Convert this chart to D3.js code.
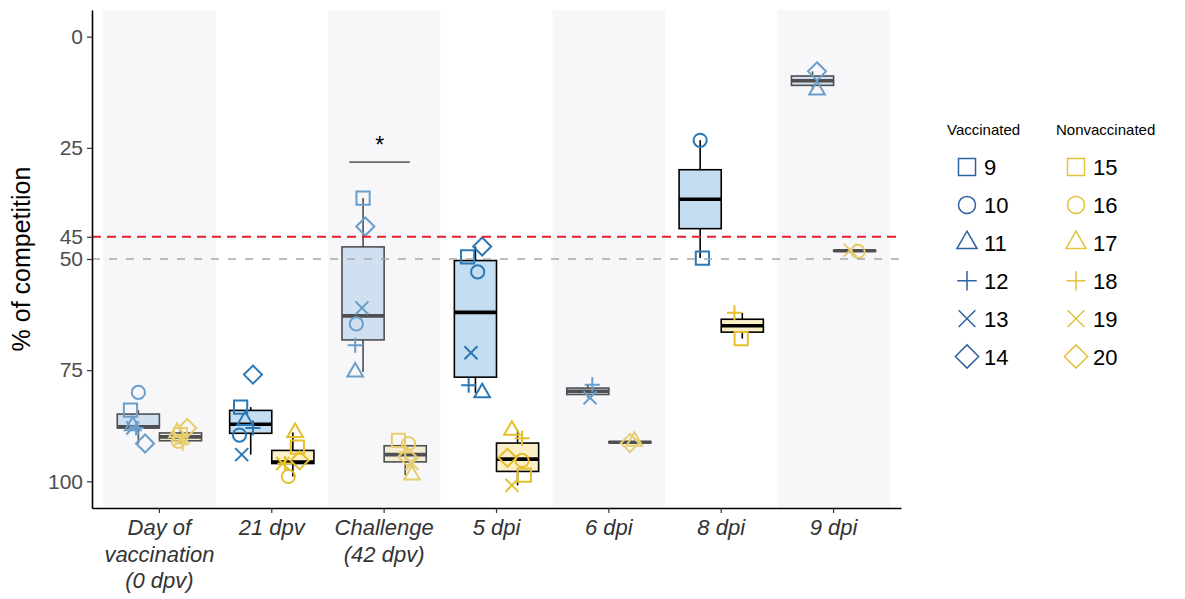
<!DOCTYPE html>
<html>
<head>
<meta charset="utf-8">
<title>% of competition</title>
<style>
  body { margin: 0; background: #fff; }
  svg { display: block; font-family: "Liberation Sans", Arial, sans-serif; }
</style>
</head>
<body>
<svg width="1185" height="599"></svg>
<script src="https://d3js.org/d3.v7.min.js"></script>
<script>
// ---- data ----
const timepoints = ["d0", "d21", "chal", "5dpi", "6dpi", "8dpi", "9dpi"];
const tickLabels = [["Day of", "vaccination", "(0 dpv)"], ["21 dpv"], ["Challenge", "(42 dpv)"],
                    ["5 dpi"], ["6 dpi"], ["8 dpi"], ["9 dpi"]];
const yTicks = [0, 25, 45, 50, 75, 100];
const vaccinatedIds = [9, 10, 11, 12, 13, 14];
const nonvaccinatedIds = [15, 16, 17, 18, 19, 20];
const shapes = ["square", "circle", "triangle", "plus", "times", "diamond"];

// one row per timepoint, one column per animal (null = no sample)
const vaccinated = [
  [84, 80, 87.5, 88, 88, 91.5],
  [83.3, 89.6, 86.3, 88, 94, 76],
  [36.3, 64.6, 75.4, 69.4, 61, 42.7],
  [49.5, 52.9, 80.1, 78.4, 71.1, 47.2],
  [null, null, null, 78.3, 81.2, null],
  [49.8, 23.3, null, null, null, null],
  [null, null, 12.0, null, null, 7.8]
];
const nonvaccinated = [
  [89.5, 91, 89, 91.5, 90.5, 88],
  [92.3, 98.9, 89, 96, 96, 95.3],
  [90.8, 91.5, 98.6, 93.5, 96, 94.5],
  [98.6, 95.3, 88.5, 90.3, 100.9, 94.7],
  [null, null, 91.0, null, null, 91.4],
  [67.9, null, null, 62.1, null, null],
  [null, 48.3, null, null, 48.0, null]
];
// horizontal jitter of each point, as a share of one category
const jitterVac = [
  [-0.07, 0, -0.05, -0.02, -0.05, 0.06],
  [-0.09, -0.1, -0.05, 0.02, -0.08, 0.02],
  [0, -0.06, -0.07, -0.07, -0.01, 0.02],
  [-0.07, 0.02, 0.06, -0.06, -0.04, 0.06],
  [0, 0, 0, 0.04, 0.02, 0],
  [0.02, 0, 0, 0, 0, 0],
  [0, 0, 0.04, 0, 0, 0.04]
];
const jitterNon = [
  [0, -0.02, -0.03, 0.02, 0, 0.06],
  [0.04, -0.04, 0.02, -0.07, -0.09, 0.06],
  [-0.06, 0.03, 0.06, 0, 0.06, 0.02],
  [0.06, 0.04, -0.05, 0.04, -0.05, -0.09],
  [0, 0, 0.04, 0, 0, 0],
  [-0.01, 0, 0, -0.07, 0, 0],
  [0, 0.03, 0, 0, -0.04, 0]
];
const cutoffRed = 45;
const cutoffGray = 50;
const signifAt = "chal";

// ---- setup ----
const blue = "#2a78b6", yellow = "#e6bf2a";
const blueFill = "#c4ddf0", yellowFill = "#fbf0c8";
const margin = {left: 92, right: 901, top: 10, bottom: 508};

const svg = d3.select("svg");

const x = d3.scaleBand()
  .domain(timepoints)
  .range([margin.left, margin.right])
  .paddingInner(0)
  .paddingOuter(0.1);
const step = x.bandwidth();
const boxW = step * 0.375;

const y = d3.scaleLinear().domain([-6, 106]).range([margin.top, margin.bottom]);

function shapePath(type, s) {
  let h;
  switch (type) {
    case "square": h = 6.3 * s; return `M${-h},${-h}H${h}V${h}H${-h}Z`;
    case "circle": h = 6.3 * s; return `M${h},0A${h},${h} 0 1,1 ${-h},0A${h},${h} 0 1,1 ${h},0Z`;
    case "triangle": h = 8.6 * s;
      return `M0,${-h}L${h * 0.866},${h * 0.5}L${-h * 0.866},${h * 0.5}Z`;
    case "plus": h = 7.2 * s; return `M${-h},0H${h}M0,${-h}V${h}`;
    case "times": h = 6.2 * s; return `M${-h},${-h}L${h},${h}M${-h},${h}L${h},${-h}`;
    case "diamond": h = 8.6 * s; return `M0,${-h}L${h},0L0,${h}L${-h},0Z`;
  }
}

function boxStats(vals) {
  const s = vals.filter(v => v != null).sort(d3.ascending);
  const q1 = d3.quantile(s, 0.25), med = d3.quantile(s, 0.5), q3 = d3.quantile(s, 0.75);
  const iqr = q3 - q1;
  const lo = d3.min(s.filter(v => v >= q1 - 1.5 * iqr));
  const hi = d3.max(s.filter(v => v <= q3 + 1.5 * iqr));
  return {q1, med, q3, lo, hi};
}

// groups: vaccinated dodged left, nonvaccinated right
const groups = [];
timepoints.forEach((t, i) => {
  groups.push({t, i, vals: vaccinated[i], jit: jitterVac[i], dodge: -1, color: blue, fill: blueFill});
  groups.push({t, i, vals: nonvaccinated[i], jit: jitterNon[i], dodge: 1, color: yellow, fill: yellowFill});
});
groups.forEach(g => {
  g.cx = x(g.t) + step / 2 + g.dodge * boxW / 2;
  g.stats = boxStats(g.vals);
});

// ---- boxes ----
const boxG = svg.append("g");
groups.forEach(g => {
  const st = g.stats;
  const gg = boxG.append("g");
  gg.append("line")
    .attr("x1", g.cx).attr("x2", g.cx)
    .attr("y1", y(st.lo)).attr("y2", y(st.hi))
    .attr("stroke", "#000").attr("stroke-width", 1.6);
  gg.append("rect")
    .attr("x", g.cx - boxW / 2).attr("width", boxW)
    .attr("y", y(st.q1)).attr("height", Math.max(0, y(st.q3) - y(st.q1)))
    .attr("fill", g.fill).attr("stroke", "#000").attr("stroke-width", 1.6);
  gg.append("line")
    .attr("x1", g.cx - boxW / 2).attr("x2", g.cx + boxW / 2)
    .attr("y1", y(st.med)).attr("y2", y(st.med))
    .attr("stroke", "#000").attr("stroke-width", 3.6);
});

// ---- points ----
const ptG = svg.append("g");
groups.forEach(g => {
  g.vals.forEach((v, k) => {
    if (v == null) return;
    ptG.append("path")
      .attr("d", shapePath(shapes[k], 1.05))
      .attr("transform", `translate(${g.cx + g.jit[k] * step},${y(v)})`)
      .attr("fill", "none")
      .attr("stroke", g.color)
      .attr("stroke-width", 2);
  });
});

// ---- shaded bands (drawn on top, semi transparent) ----
svg.append("g").selectAll("rect")
  .data(timepoints.filter((d, i) => i % 2 === 0))
  .join("rect")
  .attr("x", d => x(d))
  .attr("width", step)
  .attr("y", margin.top)
  .attr("height", margin.bottom - margin.top)
  .attr("fill", "#e9e9f0")
  .attr("fill-opacity", 0.34);

// ---- cut-off lines ----
svg.append("line")
  .attr("x1", margin.left).attr("x2", margin.right)
  .attr("y1", y(cutoffGray)).attr("y2", y(cutoffGray))
  .attr("stroke", "#a8a8a8").attr("stroke-width", 1.5).attr("stroke-dasharray", "8,9");
svg.append("line")
  .attr("x1", margin.left).attr("x2", margin.right)
  .attr("y1", y(cutoffRed)).attr("y2", y(cutoffRed))
  .attr("stroke", "#e3202a").attr("stroke-width", 2.2).attr("stroke-dasharray", "9,6");

// ---- significance mark ----
const sx = x(signifAt) + step / 2;
svg.append("line")
  .attr("x1", sx - step * 0.31).attr("x2", sx + step * 0.23)
  .attr("y1", y(28.2)).attr("y2", y(28.2))
  .attr("stroke", "#000").attr("stroke-width", 1);
svg.append("text")
  .attr("x", sx - step * 0.04).attr("y", y(28.2) - 9)
  .attr("text-anchor", "middle")
  .attr("font-size", 23)
  .text("*");

// ---- axes ----
const yAxis = svg.append("g")
  .attr("transform", `translate(${margin.left},0)`)
  .call(d3.axisLeft(y).tickValues(yTicks).tickSize(5).tickSizeOuter(0).tickPadding(4));
yAxis.select(".domain").attr("stroke", "#000").attr("stroke-width", 1.6);
yAxis.selectAll(".tick line").attr("stroke", "#333").attr("stroke-width", 1.2);
yAxis.selectAll(".tick text").attr("font-size", 21).attr("fill", "#4d4d4d")
  .attr("font-family", "Liberation Sans, Arial, sans-serif");

const xAxis = svg.append("g")
  .attr("transform", `translate(0,${margin.bottom})`)
  .call(d3.axisBottom(x).tickSize(5).tickSizeOuter(0).tickPadding(4));
xAxis.select(".domain").attr("stroke", "#000").attr("stroke-width", 1.6);
xAxis.selectAll(".tick line").attr("stroke", "#333").attr("stroke-width", 1.2);
xAxis.selectAll(".tick text").each(function(d, i) {
  const t = d3.select(this).text(null)
    .attr("font-size", 22).attr("fill", "#333").attr("font-style", "italic")
    .attr("font-family", "Liberation Sans, Arial, sans-serif")
    .attr("dy", null).attr("y", 27);
  tickLabels[i].forEach((line, j) => {
    t.append("tspan").attr("x", 0).attr("dy", j === 0 ? 0 : 26.5).text(line);
  });
});

svg.append("text")
  .attr("transform", `translate(30,${(margin.top + margin.bottom) / 2}) rotate(-90)`)
  .attr("text-anchor", "middle")
  .attr("font-size", 25)
  .attr("fill", "#000")
  .text("% of competition");

// ---- legend ----
const legendCols = [
  {title: "Vaccinated", ids: vaccinatedIds, color: "#2c62a2", x: 947},
  {title: "Nonvaccinated", ids: nonvaccinatedIds, color: "#e3c23c", x: 1056}
];
legendCols.forEach(col => {
  const lg = svg.append("g").attr("transform", `translate(${col.x},0)`);
  lg.append("text").attr("x", 0).attr("y", 135).attr("font-size", 15).text(col.title);
  col.ids.forEach((id, k) => {
    const ry = 167 + k * 37.9;
    lg.append("path")
      .attr("d", shapePath(shapes[k], 1.35))
      .attr("transform", `translate(20,${ry})`)
      .attr("fill", "none").attr("stroke", col.color).attr("stroke-width", 1.5);
    lg.append("text")
      .attr("x", 37).attr("y", ry + 8)
      .attr("font-size", 22).attr("fill", "#000")
      .text(id);
  });
});
</script>
</body>
</html>
